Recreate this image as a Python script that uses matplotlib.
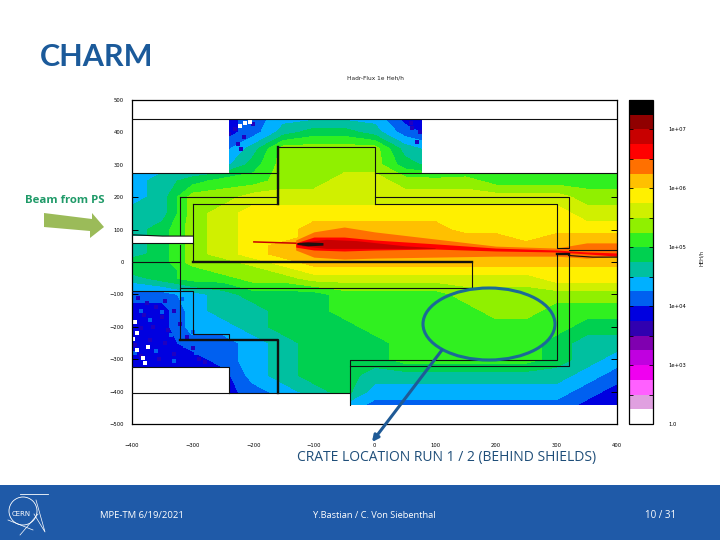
from __future__ import annotations

import matplotlib
matplotlib.use("Agg")
import matplotlib.pyplot as plt
import numpy as np
from matplotlib.colors import BoundaryNorm, ListedColormap
from matplotlib.patches import Circle, Ellipse, FancyArrowPatch, Polygon, Rectangle

# colour band of the map, read cell by cell (0 = white ... 21 = black)
grid_x = [-400, -350, -300, -250, -200, -150, -100, -50, 0, 50, 100, 150, 200, 250, 300, 350, 400]
grid_y = [450, 400, 350, 300, 250, 200, 150, 100, 75, 50, 25, 0, -25, -50, -100, -150, -200, -250, -300, -350, -400, -450]
bands = [
    [7, 7, 7, 7, 8, 9, 9, 9, 9, 7, 7, 7, 7, 7, 7, 7, 7],
    [7, 7, 7, 7, 8, 10, 11, 11, 10, 8, 7, 7, 7, 7, 7, 7, 7],
    [8, 8, 8, 8, 10, 13, 13, 13, 13, 10, 9, 9, 9, 9, 9, 9, 9],
    [9, 9, 9, 9, 11, 13, 13, 13, 13, 11, 10, 11, 11, 11, 11, 11, 11],
    [9, 10, 11, 12, 12, 13, 13, 14, 14, 13, 13, 13, 12, 12, 12, 12, 12],
    [9, 10, 13, 13, 14, 14, 14, 14, 14, 14, 14, 14, 14, 14, 14, 13, 13],
    [10, 10, 13, 14, 15, 15, 15, 15, 15, 15, 15, 15, 15, 15, 15, 14, 14],
    [10, 11, 13, 14, 15, 15, 16, 16, 16, 16, 16, 15, 15, 15, 15, 15, 15],
    [10, 11, 13, 14, 15, 15, 16, 16, 16, 16, 16, 16, 16, 15, 16, 16, 16],
    [10, 11, 13, 14, 15, 16, 16, 16, 16, 16, 16, 16, 16, 16, 16, 16, 16],
    [10, 11, 13, 14, 15, 16, 16, 16, 16, 16, 16, 16, 16, 16, 16, 16, 16],
    [11, 11, 13, 13, 14, 15, 16, 16, 16, 16, 16, 16, 16, 16, 16, 16, 16],
    [11, 11, 12, 13, 13, 14, 15, 15, 15, 15, 15, 15, 15, 15, 15, 15, 15],
    [10, 11, 12, 12, 13, 13, 14, 14, 14, 14, 14, 14, 14, 14, 15, 15, 15],
    [8, 8, 9, 10, 11, 11, 11, 12, 12, 12, 12, 13, 13, 13, 13, 13, 13],
    [7, 7, 9, 10, 10, 11, 11, 12, 12, 12, 12, 12, 13, 13, 12, 12, 12],
    [7, 7, 9, 9, 10, 11, 11, 11, 12, 12, 12, 12, 12, 12, 12, 11, 11],
    [7, 7, 8, 8, 9, 10, 11, 11, 11, 12, 12, 12, 12, 12, 11, 10, 10],
    [7, 7, 7, 8, 9, 10, 11, 11, 11, 12, 12, 12, 12, 12, 11, 10, 9],
    [7, 7, 7, 7, 9, 10, 11, 11, 10, 10, 10, 10, 10, 10, 10, 9, 8],
    [7, 7, 7, 7, 8, 9, 10, 11, 9, 9, 9, 9, 9, 9, 9, 8, 7],
    [7, 7, 7, 7, 7, 7, 8, 9, 8, 8, 8, 8, 8, 8, 8, 7, 7],
]

band_colors = [
    "#ffffff", "#e0a0e0", "#ff60ff", "#f000f0", "#c000e0", "#8000b0", "#3000b0", "#0000e0",
    "#0060f0", "#00b0ff", "#00c0a0", "#00d050", "#30f020", "#90f000", "#d0f000", "#fff000",
    "#ffc000", "#ff7000", "#ff0000", "#c80000", "#900000", "#000000",
]

# beam envelopes
beam_x = [-130, -100, -50, 0, 100, 200, 300, 350, 400]
orange_up = [68, 93, 108, 93, 71, 49, 43, 59, 59]
orange_low = [37, 15, 9, 12, 15, 18, 18, 12, 18]
red_up = [59, 77, 77, 68, 56, 43, 37, 31, 28]
red_low = [46, 37, 34, 37, 40, 34, 31, 25, 18]
dark_x = [-120, -80, -30, 50, 100]
dark_up = [62, 70, 66, 50, 44]
dark_low = [50, 42, 42, 42, 42]
line_x = [-199, -130]
line_y = [62, 58]
core_x = [-128, -110, -85]
core_up = [60, 62, 60]
core_low = [54, 50, 52]

# areas with no scored data
empty_areas = [
    (-400, 400, 441, 500),
    (-400, -240, 276, 441),
    (78, 400, 276, 441),
    (-400, 400, -500, -441),
    (-400, -240, -500, -324),
    (-240, -40, -500, -404),
    (-400, -300, 59, 80),
]

white_cells_x = [-395, -392, -398, -373, -392, -378, -382, -214, -222, -205]
white_cells_y = [-185, -219, -238, -262, -272, -312, -296, 429, 420, 432]
dark_cells_x = [-390, -375, -360, -345, -380, -350, -330, -385, -365, -340, -320, -395, -370, -345, -310, -385, -355, -330,
                -300, -290, -280, -230, -215, -240, -225, -200, -220, 60, 75, 70, 62]
dark_cells_y = [-110, -125, -140, -120, -165, -170, -150, -205, -200, -210, -190, -255, -240, -250, -230, -290, -300, -285,
                -265, -300, -310, 410, 385, 395, 365, 425, 350, 430, 400, 370, 415]
blue_cells_x = [-392, -360, -340, -318, -385, -350, -322, -370, -335, -300, -312, -290, -395, -360, -330, -295, -270, -250]
blue_cells_y = [-100, -105, -130, -115, -150, -155, -175, -180, -225, -215, -260, -245, -280, -275, -305, -280, -300, -315]

thin_walls = [
    ([-400, 400], [441, 441]),
    ([-400, -159], [276, 276]),
    ([0, 400], [276, 276]),
    ([-159, -159, 0, 0], [179, 355, 355, 179]),
    ([-321, -159], [200, 200]),
    ([0, 320, 320, 301, 301, 0], [200, 200, 42, 42, 179, 179]),
    ([-300, -159], [179, 179]),
    ([-300, -300], [179, 0]),
    ([-321, -321], [200, 84]),
    ([-321, -321], [52, -242]),
    ([-400, -321], [0, 0]),
    ([-321, 161, 161], [-80, -80, 0]),
    ([-400, -300, -300, -240, -240], [-88, -88, -222, -222, -242]),
    ([-400, -240, -240], [-324, -324, -404]),
    ([-400, -240], [-404, -404]),
    ([-40, -40, 301, 301], [-441, -302, -302, 25]),
    ([-40, 320, 320], [-322, -322, 25]),
    ([-240, -40], [-404, -404]),
    ([320, 400], [37, 37]),
    ([320, 360, 400], [20, 15, 15]),
    ([-400, -350, -300], [84, 80, 80]),
    ([-400, -300, -300], [59, 59, 55]),
]
thick_walls = [
    ([-159, -159], [179, 355]),
    ([-300, 161], [0, 0]),
    ([-321, -159, -159], [-242, -242, -404]),
    ([301, 320], [25, 25]),
]

x_ticks = [-400, -300, -200, -100, 0, 100, 200, 300, 400]
y_ticks = [500, 400, 300, 200, 100, 0, -100, -200, -300, -400, -500]
cbar_ticks = [2, 3, 4, 5, 6, 7]
cbar_minor = [2.5, 3.5, 4.5, 5.5, 6.5]
cbar_labels = ["1.0", "1e+03", "1e+04", "1e+05", "1e+06", "1e+07"]
small_size = 3.8


def plot_map(fig):
    ax = fig.add_axes([132 / 720, 1 - 424 / 540, 485 / 720, 324 / 540])
    flux = 2 + 0.25 * (np.array(bands, dtype=float) + 0.5)
    levels = 2 + 0.25 * np.arange(len(band_colors) + 1)
    cmap = ListedColormap(band_colors)
    norm = BoundaryNorm(levels, cmap.N)
    cf = ax.contourf(grid_x, grid_y, flux, levels=levels, cmap=cmap, norm=norm, extend="neither")

    ax.fill_between(beam_x, orange_low, orange_up, color=band_colors[17], lw=0)
    ax.fill_between(beam_x, red_low, red_up, color=band_colors[18], lw=0)
    ax.fill_between(dark_x, dark_low, dark_up, color=band_colors[19], lw=0)
    ax.plot(line_x, line_y, color=band_colors[19], lw=1.1)
    ax.fill_between(core_x, core_low, core_up, color="#201010", lw=0)

    ax.scatter(blue_cells_x, blue_cells_y, marker="s", s=8, color=band_colors[8], lw=0)
    ax.scatter(dark_cells_x, dark_cells_y, marker="s", s=6, color="#2000c0", lw=0)
    ax.scatter(white_cells_x, white_cells_y, marker="s", s=11, color="white", lw=0)

    for x0, x1, y0, y1 in empty_areas:
        ax.add_patch(Rectangle((x0, y0), x1 - x0, y1 - y0, color="white", lw=0, zorder=2))
    for xs, ys in thin_walls:
        ax.plot(xs, ys, color="#101010", lw=0.8, zorder=3)
    for xs, ys in thick_walls:
        ax.plot(xs, ys, color="#101010", lw=1.7, zorder=3)

    ax.set_xlim(-400, 400)
    ax.set_ylim(-500, 500)
    ax.set_xticks(x_ticks)
    ax.set_yticks(y_ticks)
    ax.tick_params(direction="in", length=4, width=0.7, top=True, right=True, labelsize=small_size, pad=6)
    ax.tick_params(axis="x", pad=14)
    for side in ax.spines.values():
        side.set_linewidth(0.9)
    return cf


def plot_colorbar(fig, cf):
    cax = fig.add_axes([629 / 720, 1 - 424 / 540, 24 / 720, 324 / 540])
    cb = fig.colorbar(cf, cax=cax, ticks=cbar_ticks, drawedges=False)
    cb.set_ticklabels(cbar_labels)
    cax.set_yticks(cbar_minor, minor=True)
    cax.tick_params(which="both", direction="in", length=3, width=0.6, left=True, right=True, labelsize=small_size, pad=11)
    cb.outline.set_linewidth(0.9)


def plot_slide(fig):
    over = fig.add_axes([0, 0, 1, 1], zorder=5)
    over.set_xlim(0, 720)
    over.set_ylim(540, 0)
    over.axis("off")
    over.patch.set_alpha(0)

    over.text(40, 57, "CHARM", fontsize=22, color="#1b5a9a", va="center", ha="left", family="Lato", weight="bold")
    over.text(375, 78, "Hadr-Flux 1e Heh/h", fontsize=4.2, ha="center", va="center", color="#222222")
    over.text(702, 258, "HEH/h", fontsize=3.8, rotation=90, ha="center", va="center", color="#222222")

    over.text(25, 200.5, "Beam from PS", fontsize=8.2, color="#1f9a68", weight="bold", va="center", family="Open Sans")
    over.add_patch(Polygon([(44, 213), (92, 219), (92, 213), (104, 227), (90, 238), (90, 231), (44, 227)], color="#9bbb59", lw=0))

    over.add_patch(Ellipse((489, 324), 132, 72, fill=False, ec="#1b6a96", lw=2.2))
    over.add_patch(FancyArrowPatch((442, 350), (372, 442), arrowstyle="-|>", mutation_scale=9, color="#1f5a96", lw=2.2, shrinkA=0, shrinkB=0))
    over.text(446.5, 457, "CRATE LOCATION RUN 1 / 2 (BEHIND SHIELDS)", fontsize=10, color="#1f4e79", ha="center", va="center", family="Open Sans")

    over.add_patch(Rectangle((0, 485), 720, 55, color="#1f5aa8", lw=0))
    over.text(142, 515, "MPE-TM 6/19/2021", fontsize=6.8, color="white", ha="center", va="center", family="Open Sans")
    over.text(374, 515, "Y.Bastian / C. Von Siebenthal", fontsize=6.7, color="white", ha="center", va="center", family="Open Sans")
    over.text(661, 515, "10 / 31", fontsize=7, color="white", ha="center", va="center", family="Open Sans")

    over.add_patch(Circle((23, 511), 14, fill=False, ec="white", lw=0.6))
    over.text(21, 514, "CERN", fontsize=5, color="white", ha="center", va="center")
    over.plot([20, 48], [494, 494], color="white", lw=0.6)
    over.plot([36, 45, 34], [500, 532, 514], color="white", lw=0.5)
    over.plot([8, 33], [520, 530], color="white", lw=0.5)
    over.plot([20, 38], [535, 514], color="white", lw=0.5)


def main() -> int:
    fig = plt.figure(figsize=(7.2, 5.4), dpi=100)
    cf = plot_map(fig)
    plot_colorbar(fig, cf)
    plot_slide(fig)
    fig.savefig("out.png", dpi=100)
    plt.close(fig)
    return 0


if __name__ == "__main__":
    raise SystemExit(main())
